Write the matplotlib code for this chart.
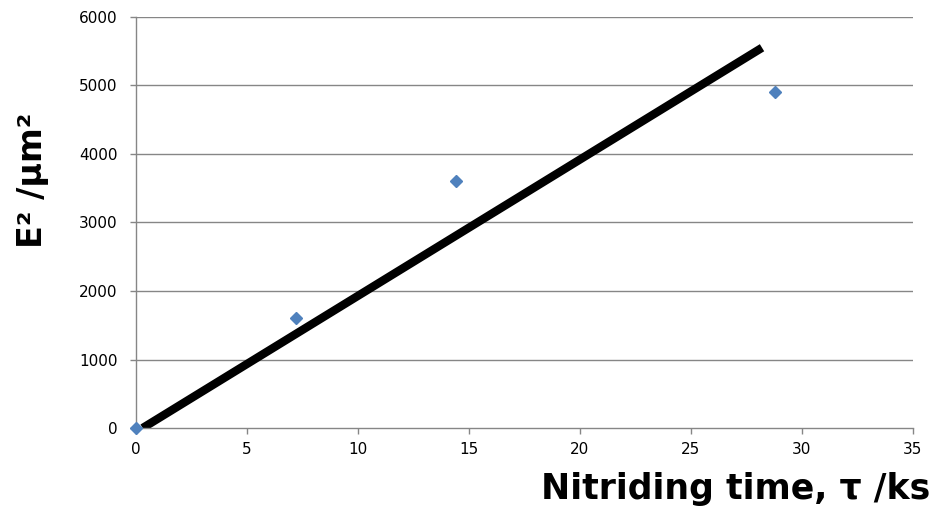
import matplotlib
matplotlib.use('Agg')
from matplotlib import pyplot as plt

# measured points
time_ks = [0, 7.2, 14.4, 28.8]
e_sq = [0, 1600, 3600, 4900]

# fitted line endpoints
fit_x = [0.3, 28.2]
fit_y = [0, 5550]

x_ticks = [0, 5, 10, 15, 20, 25, 30, 35]
y_ticks = [0, 1000, 2000, 3000, 4000, 5000, 6000]

plt.rcParams['font.family'] = ['DejaVu Sans']

fig = plt.figure(figsize=(9.36, 5.12), dpi=100)
ax = fig.add_axes([0.1453, 0.164, 0.8301, 0.803])

grid_col = '#868686'
for y in y_ticks[1:]:
    ax.axhline(y, color=grid_col, lw=1, zorder=1)

ax.plot(fit_x, fit_y, color='black', lw=6, solid_capstyle='butt', zorder=2)
ax.plot(time_ks, e_sq, linestyle='none', marker='D', markersize=6.5,
        color='#4F81BD', zorder=3, clip_on=False)

ax.set_xlim(0, 35)
ax.set_ylim(0, 6000)
ax.set_xticks(x_ticks)
ax.set_yticks(y_ticks)

for side in ['top', 'right']:
    ax.spines[side].set_visible(False)
for side in ['left', 'bottom']:
    ax.spines[side].set_color(grid_col)
    ax.spines[side].set_linewidth(1)

ax.tick_params(axis='both', direction='out', length=4.3, width=1, color=grid_col,
               labelsize=11)
ax.tick_params(axis='y', pad=9)
ax.tick_params(axis='x', pad=6)

fig.text(0.9936, 0.026, 'Nitriding time, \u03c4 /ks', ha='right', va='baseline',
         fontsize=25, fontweight='bold')
fig.text(0.035, 0.648, 'E\u00b2 /\u03bcm\u00b2', rotation=90,
         ha='center', va='center', fontsize=24, fontweight='bold')

fig.savefig('out.png', dpi=100)
